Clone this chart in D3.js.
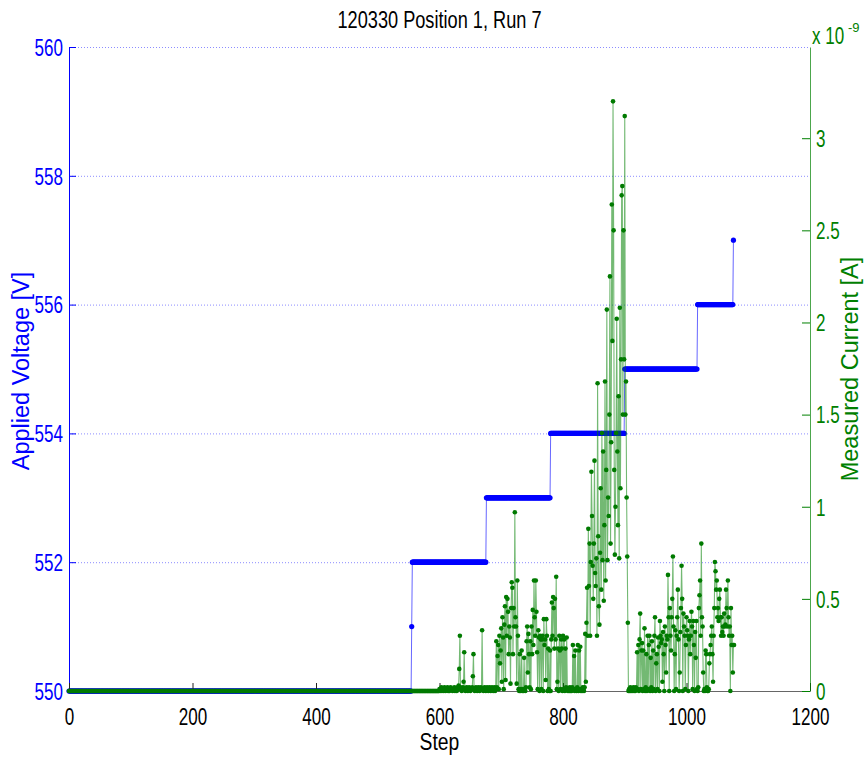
<!DOCTYPE html>
<html><head><meta charset="utf-8">
<script src="https://cdn.jsdelivr.net/npm/d3@7"></script>
<style>
body{margin:0;background:#fff}
svg{display:block}
text{font-family:"Liberation Sans",Arial,Helvetica,sans-serif}
</style>
</head><body>
<svg id="c" width="866" height="758"></svg>
<script>
// ---------------- data ----------------
const chartTitle = "120330 Position 1, Run 7";
const xLabel = "Step";
const yLeftLabel = "Applied Voltage [V]";
const yRightLabel = "Measured Current [A]";
const xTicks = [0, 200, 400, 600, 800, 1000, 1200];
const vTicks = [550, 552, 554, 556, 558, 560];
const iTicks = [0, 0.5, 1, 1.5, 2, 2.5, 3];
const iTickLabels = ["0", "0.5", "1", "1.5", "2", "2.5", "3"];

// applied voltage: constant level held from step "from" to step "to"
const voltageLevel = [550, 551, 552, 553, 554, 555, 556, 557];
const voltageFrom  = [0,   555, 556, 676, 780, 900, 1018, 1076];
const voltageTo    = [554, 555, 675, 779, 899, 1017, 1075, 1076];

// measured current (x 1e-9 A): zero during steps 0..599, then per-step readings
const quietFrom = 0, quietTo = 599, quietCurrent = 0;
const activeFrom = 600;
const activeCurrent = [
 0.01,0.00,0.01,0.02,0.00,0.01,0.01,0.00,0.02,0.01,0.00,0.01,0.01,0.02,0.00,0.01,0.00,0.01,0.02,0.01,
 0.01,0.00,0.01,0.01,0.02,0.00,0.01,0.01,0.00,0.02,0.01,0.03,0.12,0.30,0.02,0.01,0.00,0.01,0.02,0.05,
 0.21,0.01,0.00,0.01,0.02,0.01,0.00,0.01,0.02,0.01,0.00,0.01,0.01,0.02,0.08,0.20,0.01,0.00,0.01,0.02,
 0.01,0.00,0.01,0.02,0.01,0.00,0.01,0.02,0.01,0.33,0.01,0.00,0.01,0.02,0.01,0.00,0.01,0.02,0.01,0.00,
 0.01,0.02,0.01,0.00,0.01,0.02,0.01,0.00,0.01,0.02,0.00,0.01,0.27,0.02,0.19,0.25,0.01,0.30,0.15,0.22,
 0.34,0.05,0.40,0.29,0.01,0.36,0.46,0.06,0.51,0.30,0.50,0.43,0.20,0.35,0.29,0.04,0.45,0.59,0.56,0.20,
 0.45,0.35,0.97,0.40,0.35,0.04,0.60,0.30,0.01,0.00,0.20,0.00,0.01,0.22,0.00,0.01,0.00,0.18,0.01,0.00,
 0.02,0.27,0.35,0.10,0.31,0.20,0.02,0.27,0.01,0.35,0.20,0.44,0.25,0.60,0.40,0.30,0.60,0.43,0.21,0.01,
 0.33,0.29,0.00,0.30,0.28,0.01,0.28,0.30,0.00,0.39,0.25,0.28,0.06,0.39,0.30,0.00,0.23,0.01,0.00,0.22,
 0.00,0.28,0.48,0.30,0.51,0.45,0.23,0.50,0.28,0.62,0.01,0.05,0.23,0.00,0.30,0.22,0.01,0.28,0.23,0.00,
 0.30,0.01,0.28,0.00,0.23,0.02,0.29,0.01,0.00,0.01,0.00,0.02,0.00,0.01,0.00,0.02,0.25,0.01,0.19,0.00,
 0.22,0.01,0.00,0.02,0.25,0.00,0.22,0.01,0.24,0.00,0.01,0.00,0.02,0.01,0.00,0.02,0.31,0.05,0.37,0.56,
 0.30,0.88,0.57,0.80,0.30,0.70,1.19,0.95,0.68,0.50,0.80,1.25,0.64,0.57,0.72,0.30,1.67,0.84,0.46,0.36,
 0.75,1.10,0.55,1.40,0.71,1.30,0.49,0.90,1.68,0.60,1.20,2.07,0.71,1.05,0.95,1.50,2.25,0.80,1.35,2.64,
 1.90,3.20,2.50,1.20,0.74,1.00,1.40,2.02,1.30,0.90,1.60,0.72,2.08,1.10,1.80,2.69,2.74,1.50,2.50,1.80,
 3.12,1.50,1.68,1.05,0.73,0.37,0.00,0.01,0.00,0.02,0.00,0.01,0.00,0.01,0.02,0.00,0.01,0.00,0.02,0.01,
 0.21,0.01,0.25,0.00,0.28,0.42,0.01,0.22,0.26,0.00,0.22,0.01,0.34,0.00,0.02,0.20,0.00,0.30,0.01,0.25,
 0.30,0.00,0.18,0.02,0.27,0.00,0.22,0.01,0.30,0.40,0.00,0.15,0.20,0.01,0.29,0.24,0.00,0.38,0.30,0.26,
 0.28,0.05,0.32,0.20,0.00,0.35,0.25,0.10,0.30,0.28,0.63,0.40,0.00,0.45,0.30,0.22,0.40,0.50,0.73,0.35,
 0.00,0.20,0.33,0.01,0.30,0.40,0.55,0.28,0.00,0.10,0.32,0.45,0.68,0.50,0.00,0.42,0.35,0.30,0.01,0.25,
 0.40,0.33,0.30,0.00,0.28,0.38,0.20,0.30,0.43,0.35,0.01,0.38,0.25,0.00,0.32,0.18,0.38,0.01,0.00,0.02,
 0.45,0.52,0.60,0.30,0.80,0.40,0.35,0.10,0.00,0.01,0.00,0.22,0.20,0.02,0.00,0.00,0.01,0.15,0.20,0.25,
 0.30,0.35,0.20,0.05,0.30,0.45,0.70,0.65,0.55,0.60,0.40,0.45,0.38,0.50,0.55,0.40,0.30,0.40,0.32,0.35,
 0.30,0.42,0.35,0.36,0.55,0.45,0.35,0.60,0.40,0.30,0.35,0.00,0.45,0.25,0.30,0.10,0.25,0.25
];

// ---------------- layout ----------------
const L = 69, R = 810, T = 47, B = 691;
const BLUE = "#0000ff", GREEN = "#008000";
const x  = d3.scaleLinear().domain([0, 1200]).range([L, R]);
const yV = d3.scaleLinear().domain([550, 560]).range([B, T]);
const yI = d3.scaleLinear().domain([0, 3.495]).range([B, T]);

const svg = d3.select("#c");

// condense a text element horizontally (reference font is a narrow Helvetica)
function squeeze(sel, factor) {
  sel.each(function () {
    const w = this.getComputedTextLength();
    d3.select(this).attr("textLength", w * factor).attr("lengthAdjust", "spacingAndGlyphs");
  });
}

// grid lines (left axis ticks)
svg.append("g").selectAll("line").data(vTicks.filter(d => d > 550)).join("line")
  .attr("x1", L).attr("x2", R)
  .attr("y1", d => yV(d) + 0.5).attr("y2", d => yV(d) + 0.5)
  .attr("stroke", "#8c8cff").attr("stroke-width", 1).attr("stroke-dasharray", "1,2");

// voltage series
const vPts = [];
voltageLevel.forEach((v, i) => { for (let s = voltageFrom[i]; s <= voltageTo[i]; s++) vPts.push([s, v]); });
const vLine = d3.line().x(d => x(d[0])).y(d => yV(d[1]));
svg.append("path").datum(vPts).attr("d", vLine)
  .attr("fill", "none").attr("stroke", BLUE).attr("stroke-width", 1).attr("stroke-opacity", 0.6);
svg.append("g").selectAll("circle").data(vPts).join("circle")
  .attr("cx", d => x(d[0])).attr("cy", d => yV(d[1])).attr("r", 2.6).attr("fill", BLUE);

// current series
const iPts = [];
for (let s = quietFrom; s <= quietTo; s++) iPts.push([s, quietCurrent]);
activeCurrent.forEach((v, k) => iPts.push([activeFrom + k, v]));
const iLine = d3.line().x(d => x(d[0])).y(d => yI(d[1]));

// axes
const fs = 23;
const gL = svg.append("g").attr("transform", `translate(${L},0)`)
  .call(d3.axisLeft(yV).tickValues(vTicks).tickSizeInner(-7).tickSizeOuter(0).tickPadding(6));
gL.select(".domain").attr("stroke", BLUE);
gL.selectAll(".tick line").attr("stroke", BLUE);
gL.selectAll(".tick text").attr("fill", BLUE).attr("font-size", fs).attr("font-family", null).attr("y", 1);

const gB = svg.append("g").attr("transform", `translate(0,${B})`)
  .call(d3.axisBottom(x).tickValues(xTicks).tickFormat(d3.format("d")).tickSizeInner(-8).tickSizeOuter(0).tickPadding(18));
gB.select(".domain").attr("stroke", "#666");
gB.selectAll(".tick line").attr("stroke", "#222");
gB.selectAll(".tick text").attr("fill", "#000").attr("font-size", fs).attr("font-family", null);

svg.append("path").datum(iPts).attr("d", iLine)
  .attr("fill", "none").attr("stroke", GREEN).attr("stroke-width", 1.1).attr("stroke-opacity", 0.55);
svg.append("g").selectAll("circle").data(iPts).join("circle")
  .attr("cx", d => x(d[0])).attr("cy", d => yI(d[1])).attr("r", 2.3).attr("fill", "#007a00");

const gR = svg.append("g").attr("transform", `translate(${R},0)`)
  .call(d3.axisRight(yI).tickValues(iTicks).tickFormat((d, i) => iTickLabels[i])
    .tickSizeInner(-8).tickSizeOuter(0).tickPadding(6));
gR.select(".domain").attr("stroke", GREEN).attr("stroke-opacity", 0.7);
gR.selectAll(".tick line").attr("stroke", GREEN);
gR.selectAll(".tick text").attr("fill", GREEN).attr("font-size", fs).attr("font-family", null).attr("y", 1);

squeeze(gL.selectAll(".tick text"), 0.74);
squeeze(gB.selectAll(".tick text"), 0.74);
squeeze(gR.selectAll(".tick text"), 0.74);

// titles
const tt = svg.append("text").attr("x", (L + R) / 2).attr("y", 28).attr("text-anchor", "middle")
  .attr("font-size", 23).attr("fill", "#000").text(chartTitle);
squeeze(tt, 0.79);
const xl = svg.append("text").attr("x", (L + R) / 2).attr("y", 750).attr("text-anchor", "middle")
  .attr("font-size", 23).attr("fill", "#000").text(xLabel);
squeeze(xl, 0.84);
svg.append("text").attr("transform", `translate(29,371) rotate(-90)`)
  .attr("text-anchor", "middle").attr("font-size", 23.5).attr("fill", BLUE).text(yLeftLabel);
svg.append("text").attr("transform", `translate(858,369) rotate(-90)`)
  .attr("text-anchor", "middle").attr("font-size", 23.5).attr("fill", GREEN).text(yRightLabel);

// exponent label "x 10" (condensed by a transform) and superscript "-9"
svg.append("text").attr("transform", "translate(812,44) scale(0.74,1)")
  .attr("font-size", 23).attr("fill", GREEN).text("x 10");
svg.append("text").attr("x", 848).attr("y", 32)
  .attr("font-size", 13).attr("fill", GREEN).text("-9");
</script>
</body></html>
